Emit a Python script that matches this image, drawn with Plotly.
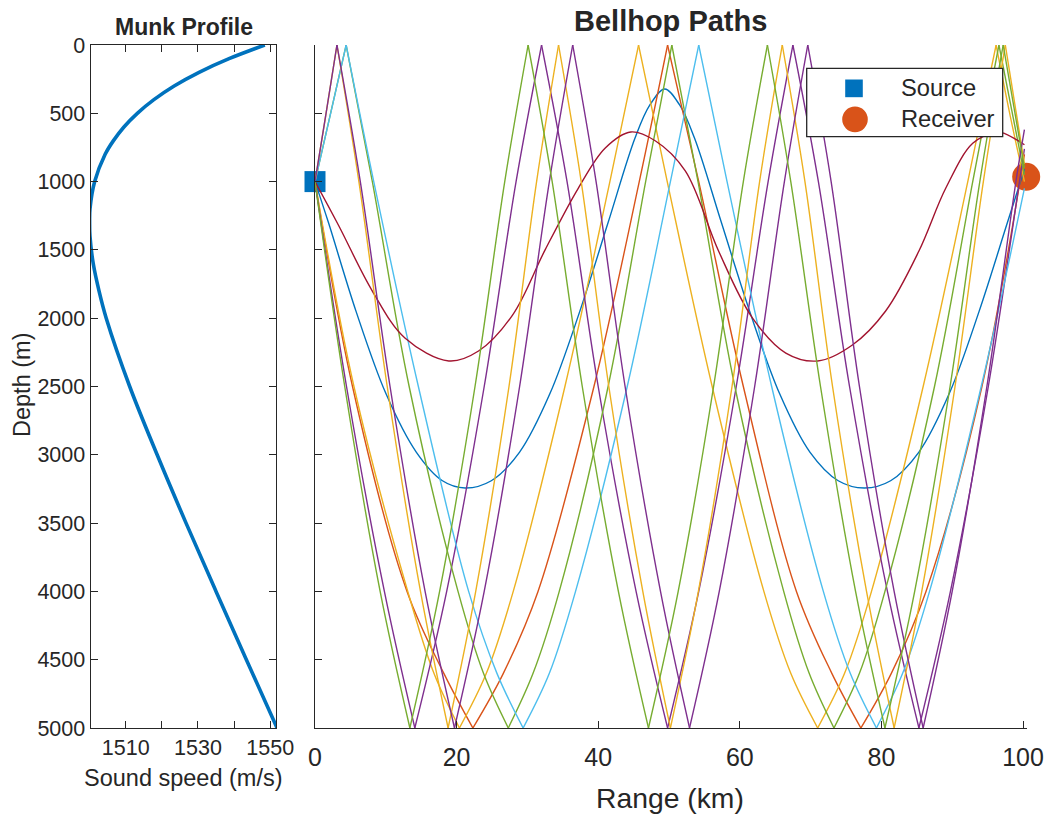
import plotly.graph_objects as go

# ---------------- data ----------------
# Munk sound-speed profile
munk_depth = [0, 100, 200, 300, 400, 500, 600, 700, 800, 1000, 1200, 1300, 1400, 1600, 1800,
              2000, 2500, 3000, 3500, 4000, 4500, 5000]
munk_speed = [1548.5, 1538.6, 1530.3, 1523.4, 1517.8, 1513.2, 1509.5, 1506.6, 1504.3, 1501.4,
              1500.1, 1500.0, 1500.1, 1501.0, 1502.6, 1504.6, 1511.1, 1518.7, 1526.7, 1535.0,
              1543.4, 1551.9]

# Eigenray paths: range (km) / depth (m) waypoints
blue_r = [0, 1.9, 5.8, 10.0, 14.3, 18.0, 21.2, 24.9, 28.9, 33.2, 37.4, 41.4, 45.2, 47.3, 49.4,
          51.5, 53.6, 57.4, 61.4, 65.6, 69.9, 73.9, 77.6, 81.3, 85.3, 89.6, 93.8, 97.8, 100.2]
blue_z = [1000, 1300, 1950, 2550, 2980, 3190, 3243, 3190, 2980, 2550, 1950, 1300, 681, 439, 322,
          439, 681, 1300, 1950, 2550, 2980, 3190, 3243, 3190, 2980, 2550, 1950, 1300, 910]

orange_r = [0, 5.3, 13.0, 18.2, 22.3, 26.6, 31.5, 39.4, 45.8, 49.8, 54.2, 60.5, 68.0, 73.0,
            77.1, 81.4, 86.3, 94.2, 100.2]
orange_z = [1000, 2500, 4000, 4600, 5000, 4600, 4000, 2500, 1000, 0, 1000, 2500, 4000, 4600,
            5000, 4600, 4000, 2500, 800]

yellow1_r = [0, 5.5, 13.1, 16.8, 20.4, 24.2, 28.0, 35.3, 41.65, 45.7, 49.75, 56.1, 63.4, 67.2,
             71.0, 74.8, 78.6, 85.9, 92.2, 96.2, 98.2, 100.2]
yellow1_z = [1000, 2500, 4000, 4600, 5000, 4600, 4000, 2500, 1000, 0, 1000, 2500, 4000, 4600,
             5000, 4600, 4000, 2500, 1000, 0, 520, 1000]

purple1_r = [0, 4.45, 9.8, 14.1, 18.6, 23.9, 28.4, 32.0, 35.6, 40.0, 45.35, 49.8, 54.2, 59.5,
             64.0, 67.5, 71.1, 75.5, 80.85, 85.3, 89.75, 95.1, 99.5, 100.2]
purple1_z = [1000, 2500, 4000, 5000, 4000, 2500, 1000, 0, 1000, 2500, 4000, 5000, 4000, 2500,
             1000, 0, 1000, 2500, 4000, 5000, 4000, 2500, 1000, 760]

green1_r = [0, 2.2, 4.4, 8.1, 13.3, 20.2, 23.8, 27.3, 30.8, 34.5, 41.4, 46.7, 50.4, 54.1, 59.3,
            66.2, 69.8, 73.3, 76.9, 80.5, 87.5, 92.9, 96.6, 100.2]
green1_z = [1000, 500, 0, 1000, 2500, 4000, 4600, 5000, 4600, 4000, 2500, 1000, 0, 1000, 2500,
            4000, 4600, 5000, 4600, 4000, 2500, 1000, 0, 950]

lightblue_r = [0, 2.3, 4.4, 8.3, 14.6, 21.7, 25.7, 29.4, 33.1, 36.8, 44.1, 50.2, 54.2, 58.2,
               64.5, 71.8, 75.6, 79.3, 83.0, 86.8, 94.1, 100.2]
lightblue_z = [1000, 480, 0, 1000, 2500, 4000, 4600, 5000, 4600, 4000, 2500, 1000, 0, 1000,
               2500, 4000, 4600, 5000, 4600, 4000, 2500, 1050]

darkred_r = [0, 3.3, 8.1, 12.7, 18.9, 23.1, 27.9, 32.5, 37.2, 41.0, 44.6, 48.1, 52.3, 57.0,
             61.8, 66.5, 71.0, 75.9, 80.6, 85.3, 89.1, 92.9, 96.2, 97.5, 100.2]
darkred_z = [1000, 1318, 1801, 2145, 2313, 2240, 1977, 1500, 1047, 754, 637, 703, 922, 1508,
             1999, 2255, 2313, 2196, 1947, 1508, 1047, 720, 637, 650, 730]

yellow2_r = [0, 1.5, 3.1, 6.2, 10.2, 14.9, 18.8, 22.7, 27.4, 31.3, 34.4, 37.6, 41.5, 46.3, 50.2,
             54.15, 58.9, 62.8, 66.0, 69.2, 73.1, 77.9, 81.8, 85.7, 90.4, 94.4, 97.5, 100.2]
yellow2_z = [1000, 520, 0, 1000, 2500, 4000, 5000, 4000, 2500, 1000, 0, 1000, 2500, 4000, 5000,
             4000, 2500, 1000, 0, 1000, 2500, 4000, 5000, 4000, 2500, 1000, 0, 870]

purple2_r = [0, 1.5, 3.1, 6.4, 10.6, 15.55, 19.7, 23.9, 28.9, 33.1, 36.4, 39.7, 43.8, 48.8, 52.9,
             57.1, 62.1, 66.3, 69.6, 72.9, 76.9, 81.8, 85.9, 90.0, 94.9, 99.0, 100.2]
purple2_z = [1000, 520, 0, 1000, 2500, 4000, 5000, 4000, 2500, 1000, 0, 1000, 2500, 4000, 5000,
             4000, 2500, 1000, 0, 1000, 2500, 4000, 5000, 4000, 2500, 1000, 620]

green2_r = [0, 4.2, 9.2, 13.4, 17.6, 22.6, 26.8, 30.1, 33.5, 37.75, 42.85, 47.1, 51.3, 56.3,
            60.5, 63.9, 67.2, 71.4, 76.35, 80.5, 84.7, 89.7, 93.9, 97.2, 98.7, 100.2]
green2_z = [1000, 2500, 4000, 5000, 4000, 2500, 1000, 0, 1000, 2500, 4000, 5000, 4000, 2500,
            1000, 0, 1000, 2500, 4000, 5000, 4000, 2500, 1000, 0, 450, 900]

source_range = [0]
source_depth = [1000]
receiver_range = [100.45]
receiver_depth = [965]

munk_xticks = [1510, 1520, 1530, 1540, 1550]
munk_xticktext = ["1510", "", "1530", "", "1550"]
depth_ticks = [0, 500, 1000, 1500, 2000, 2500, 3000, 3500, 4000, 4500, 5000]
range_ticks = [0, 20, 40, 60, 80, 100]

SURFACE, BOTTOM = 0, 5000

rays = [
    (blue_r, blue_z, "#0072BD"),
    (orange_r, orange_z, "#D95319"),
    (yellow1_r, yellow1_z, "#EDB120"),
    (purple1_r, purple1_z, "#7E2F8E"),
    (green1_r, green1_z, "#77AC30"),
    (lightblue_r, lightblue_z, "#4DBEEE"),
    (darkred_r, darkred_z, "#A2142F"),
    (yellow2_r, yellow2_z, "#EDB120"),
    (purple2_r, purple2_z, "#7E2F8E"),
    (green2_r, green2_z, "#77AC30"),
]

FONT = "Liberation Sans, Arial, Helvetica, sans-serif"
INK = "#262626"
W, H = 1045, 815


def px(x):
    return x / W


def py(y):
    return 1 - y / H


def split_at_reflections(r, z):
    segs = []
    cr, cz = [r[0]], [z[0]]
    for i in range(1, len(r)):
        cr.append(r[i])
        cz.append(z[i])
        if z[i] in (SURFACE, BOTTOM) and i < len(r) - 1:
            segs.append((cr, cz))
            cr, cz = [r[i]], [z[i]]
    segs.append((cr, cz))
    return segs


fig = go.Figure()

# Munk profile
fig.add_trace(go.Scatter(x=munk_speed, y=munk_depth, mode="lines",
                         line=dict(color="#0072BD", width=3.6, shape="spline"),
                         xaxis="x", yaxis="y", showlegend=False, hoverinfo="skip"))

# source / receiver markers (drawn beneath rays)
fig.add_trace(go.Scatter(x=source_range, y=source_depth, mode="markers",
                         marker=dict(symbol="square", size=21, color="#0072BD"),
                         xaxis="x2", yaxis="y2", cliponaxis=False, showlegend=False))
fig.add_trace(go.Scatter(x=receiver_range, y=receiver_depth, mode="markers",
                         marker=dict(symbol="circle", size=28, color="#D95319"),
                         xaxis="x2", yaxis="y2", cliponaxis=False, showlegend=False))

for r, z, col in rays:
    for sr, sz in split_at_reflections(r, z):
        fig.add_trace(go.Scatter(x=sr, y=sz, mode="lines",
                                 line=dict(color=col, width=1.4, shape="spline", smoothing=1.0),
                                 xaxis="x2", yaxis="y2", showlegend=False, hoverinfo="skip"))

RANGE_MAX = 100.5
left_dom = [px(90.7), px(276)]
right_dom = [px(315), px(315 + 708 * RANGE_MAX / 100)]
ydom = [py(728), py(45)]

axis_common = dict(showline=True, linecolor=INK, linewidth=1.3, ticks="inside", ticklen=7,
                   tickcolor=INK, tickwidth=1.2, showgrid=False, zeroline=False,
                   automargin=False)

fig.update_layout(
    width=W, height=H,
    margin=dict(l=0, r=0, t=0, b=0, pad=0),
    paper_bgcolor="white", plot_bgcolor="white",
    font=dict(family=FONT, color=INK),
    showlegend=False,
    xaxis=dict(domain=left_dom, range=[1500.3, 1551.6], anchor="y", mirror="ticks",
               tickvals=munk_xticks, ticktext=munk_xticktext,
               tickfont=dict(size=21.5, family=FONT, color=INK), **axis_common),
    yaxis=dict(domain=ydom, range=[5000, 0], anchor="x", mirror="ticks",
               tickvals=depth_ticks, tickfont=dict(size=21.5, family=FONT, color=INK),
               **axis_common),
    xaxis2=dict(domain=right_dom, range=[0, RANGE_MAX], anchor="y2", tickvals=range_ticks,
                ticklabelstandoff=7,
                tickfont=dict(size=25, family=FONT, color=INK), **axis_common),
    yaxis2=dict(domain=ydom, range=[5000, 0], anchor="x2", tickvals=depth_ticks,
                showticklabels=False, **axis_common),
)

ann = [
    dict(text="<b>Munk Profile</b>", x=px(183.5), y=py(27), size=23, angle=0),
    dict(text="<b>Bellhop Paths</b>", x=px(670), y=py(21), size=29, angle=0),
    dict(text="Depth (m)", x=px(22), y=py(385), size=23.5, angle=-90),
    dict(text="Sound speed (m/s)", x=px(183.5), y=py(778), size=23.5, angle=0),
    dict(text="Range (km)", x=px(670), y=py(798), size=28.3, angle=0),
]
for a in ann:
    fig.add_annotation(text=a["text"], x=a["x"], y=a["y"], xref="paper", yref="paper",
                       xanchor="center", yanchor="middle", showarrow=False,
                       textangle=a["angle"], font=dict(size=a["size"], family=FONT, color=INK))

# custom legend box
fig.add_shape(type="rect", xref="paper", yref="paper", x0=px(806.7), x1=px(1002.7),
              y0=py(136.7), y1=py(68.3), fillcolor="white", line=dict(color=INK, width=1.3),
              layer="above")
fig.add_shape(type="rect", xref="paper", yref="paper", x0=px(845.2), x1=px(862.8),
              y0=py(97.2), y1=py(79.5), fillcolor="#0072BD", line=dict(width=0), layer="above")
fig.add_shape(type="circle", xref="paper", yref="paper", x0=px(842.2), x1=px(867.8),
              y0=py(132.2), y1=py(106.5), fillcolor="#D95319", line=dict(width=0), layer="above")
for txt, yy in [("Source", 88.3), ("Receiver", 119.3)]:
    fig.add_annotation(text=txt, x=px(899), y=py(yy), xref="paper", yref="paper",
                       xanchor="left", yanchor="middle", showarrow=False,
                       font=dict(size=23.7, family=FONT, color=INK))

fig.write_html("out.html", config={"displayModeBar": False},
               post_script="document.body.style.margin='0';")
